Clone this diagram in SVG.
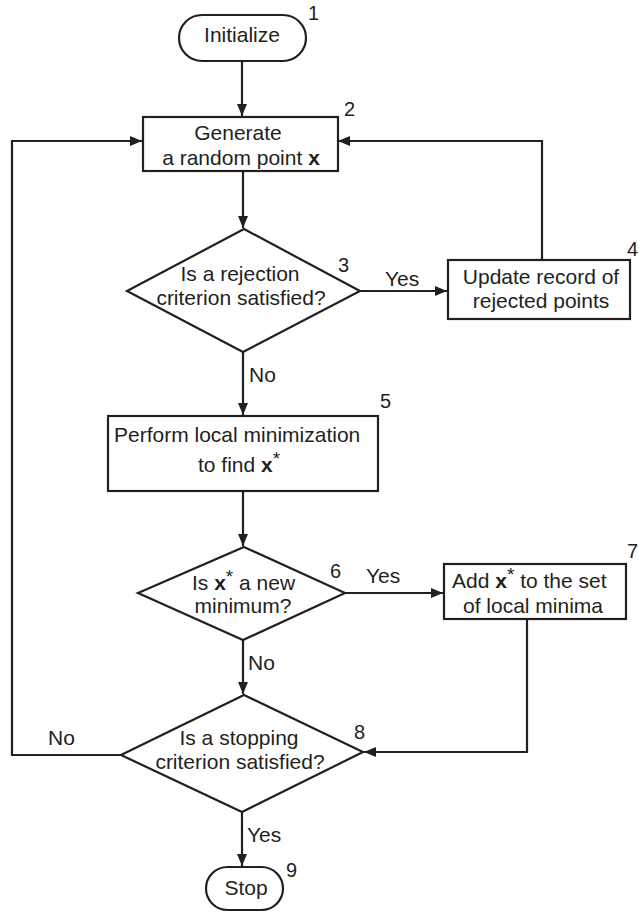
<svg xmlns="http://www.w3.org/2000/svg" width="639" height="913" viewBox="0 0 639 913">
  <style>
    .shape { fill: #ffffff; stroke: #231f20; stroke-width: 2.2; }
    .edge { fill: none; stroke: #231f20; stroke-width: 2.2; }
    text { font-family: "Liberation Sans", Arial, sans-serif; font-size: 21px; fill: #231f20; }
    .mid { text-anchor: middle; }
    .num { font-size: 20px; }
    .b { font-weight: bold; }
    .sup { font-size: 19px; }
  </style>
  <defs>
    <marker id="arrow" viewBox="0 0 12 10" refX="12" refY="5" markerWidth="12" markerHeight="10" markerUnits="userSpaceOnUse" orient="auto">
      <path d="M0,0 L12,5 L0,10 Z" fill="#231f20"/>
    </marker>
  </defs>

  <!-- connectors -->
  <g id="connectors">
    <path class="edge" d="M242,61 V116" marker-end="url(#arrow)"/>
    <path class="edge" d="M243,171 V228" marker-end="url(#arrow)"/>
    <path class="edge" d="M360,291 H447" marker-end="url(#arrow)"/>
    <path class="edge" d="M542,260 V141 H338" marker-end="url(#arrow)"/>
    <path class="edge" d="M243,352 V415" marker-end="url(#arrow)"/>
    <path class="edge" d="M243,491 V546" marker-end="url(#arrow)"/>
    <path class="edge" d="M345,593 H443" marker-end="url(#arrow)"/>
    <path class="edge" d="M243,640 V694" marker-end="url(#arrow)"/>
    <path class="edge" d="M527,619 V752 H364" marker-end="url(#arrow)"/>
    <path class="edge" d="M121,755 H12 V141 H142" marker-end="url(#arrow)"/>
    <path class="edge" d="M242,812 V866" marker-end="url(#arrow)"/>
    <text x="385" y="286">Yes</text>
    <text x="249" y="382">No</text>
    <text x="366" y="583">Yes</text>
    <text x="248" y="670">No</text>
    <text x="48" y="745">No</text>
    <text x="247" y="842">Yes</text>
  </g>

  <!-- 1: start -->
  <g id="n1">
    <rect class="shape" x="179" y="15" width="127" height="46" rx="23"/>
    <text class="mid" x="242" y="42">Initialize</text>
    <text class="num" x="308" y="20">1</text>
  </g>

  <!-- 2: generate -->
  <g id="n2">
    <rect class="shape" x="143" y="117" width="195" height="54"/>
    <text class="mid" x="238" y="140">Generate</text>
    <text class="mid" x="241" y="165">a random point <tspan class="b">x</tspan></text>
    <text class="num" x="344" y="116">2</text>
  </g>

  <!-- 3: rejection test -->
  <g id="n3">
    <polygon class="shape" points="244,229 360,291 243,352 127,291"/>
    <text class="mid" x="240" y="281">Is a rejection</text>
    <text class="mid" x="241" y="305">criterion satisfied?</text>
    <text class="num" x="338" y="272">3</text>
  </g>

  <!-- 4: record rejected -->
  <g id="n4">
    <rect class="shape" x="448" y="260" width="182" height="59"/>
    <text class="mid" x="541" y="284">Update record of</text>
    <text class="mid" x="541" y="308">rejected points</text>
    <text class="num" x="627" y="256">4</text>
  </g>

  <!-- 5: local minimization -->
  <g id="n5">
    <rect class="shape" x="108" y="416" width="270" height="75"/>
    <text x="114" y="442">Perform local minimization</text>
    <text x="198" y="472">to find <tspan class="b">x</tspan><tspan class="sup" dy="-7">*</tspan></text>
    <text class="num" x="380" y="408">5</text>
  </g>

  <!-- 6: new minimum test -->
  <g id="n6">
    <polygon class="shape" points="244,547 345,593 243,640 138,593"/>
    <text x="192" y="590">Is <tspan class="b">x</tspan><tspan class="sup" dy="-7">*</tspan><tspan dy="7"> a new</tspan></text>
    <text class="mid" x="243" y="613">minimum?</text>
    <text class="num" x="330" y="578">6</text>
  </g>

  <!-- 7: add minimum -->
  <g id="n7">
    <rect class="shape" x="444" y="564" width="182" height="55"/>
    <text x="452" y="588">Add <tspan class="b">x</tspan><tspan class="sup" dy="-7">*</tspan><tspan dy="7"> to the set</tspan></text>
    <text class="mid" x="533" y="613">of local minima</text>
    <text class="num" x="627" y="558">7</text>
  </g>

  <!-- 8: stopping test -->
  <g id="n8">
    <polygon class="shape" points="244,695 363,752 242,812 121,755"/>
    <text class="mid" x="239" y="745">Is a stopping</text>
    <text class="mid" x="240" y="769">criterion satisfied?</text>
    <text class="num" x="354" y="739">8</text>
  </g>

  <!-- 9: stop -->
  <g id="n9">
    <rect class="shape" x="206" y="867" width="77" height="43" rx="21.5"/>
    <text class="mid" x="246" y="895">Stop</text>
    <text class="num" x="286" y="877">9</text>
  </g>
</svg>
